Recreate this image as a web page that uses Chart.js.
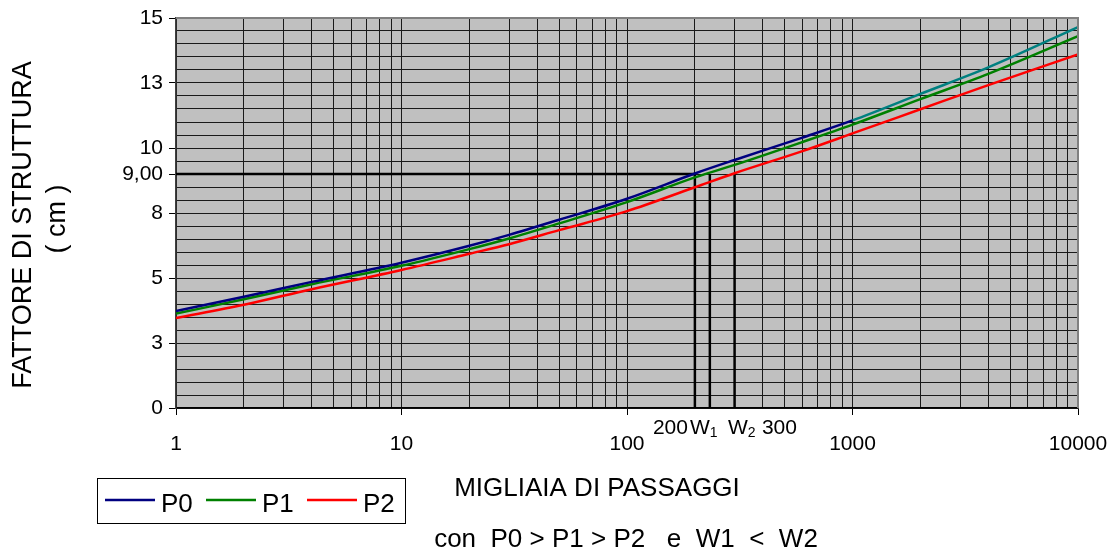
<!DOCTYPE html>
<html>
<head>
<meta charset="utf-8">
<script src="https://cdn.jsdelivr.net/npm/chart.js@4.4.1/dist/chart.umd.min.js"></script>
<style>
    html, body { margin: 0; padding: 0; background: #fff; }
    #wrap { width: 1118px; height: 552px; position: relative; }
</style>
</head>
<body>
<div id="wrap"><canvas id="chart"></canvas></div>
<script>
// Migliaia di passaggi (x) and fattore di struttura in cm (y).
var passaggi = [1, 2, 4, 10, 20, 30, 50, 100, 200, 300, 600, 1000, 2000, 4000, 10000];
var p0 = [3.73, 4.28, 4.85, 5.59, 6.24, 6.66, 7.24, 8.05, 9.02, 9.54, 10.40, 11.06, 12.08, 13.10, 14.65];
var p1 = [3.63, 4.18, 4.76, 5.47, 6.11, 6.52, 7.10, 7.92, 8.87, 9.35, 10.23, 10.90, 11.88, 12.85, 14.30];
var p2 = [3.46, 3.97, 4.57, 5.31, 5.93, 6.30, 6.84, 7.57, 8.49, 9.03, 9.88, 10.56, 11.49, 12.42, 13.60];

// Reference construction: level 9,00 and the passaggi where each curve reaches it.
var livello = 9;
var wPassaggi = [200, 233, 300];

// Axis ticks
var xTickLabels = [1, 10, 100, 1000, 10000];
var yMajor = [0, 2.5, 5, 7.5, 10, 12.5, 15];
var yStep = 0.5;

var FONT = "'Liberation Sans', Arial, sans-serif";

function pts(ys) {
    return passaggi.map(function (x, i) { return { x: x, y: ys[i] }; });
}

function curve(label, color, ys) {
    return {
        label: label,
        data: pts(ys),
        borderColor: color,
        borderWidth: 2.5,
        pointRadius: 0,
        cubicInterpolationMode: "monotone",
        fill: false
    };
}

var datasets = [
    curve("P0", "#000080", p0),
    curve("P1", "#008000", p1),
    curve("P2", "#ff0000", p2)
];
// P0 is drawn teal past 1000 in the original.
datasets[0].segment = {
    borderColor: function (ctx) {
        return ctx.p0.parsed.x >= 1000 ? "#008080" : undefined;
    }
};

datasets.push({
    label: "livello",
    data: [{ x: passaggi[0], y: livello }, { x: wPassaggi[0], y: livello }],
    borderColor: "#000",
    borderWidth: 2.5,
    pointRadius: 0
});
wPassaggi.forEach(function (w) {
    datasets.push({
        label: "w" + w,
        data: [{ x: w, y: 0 }, { x: w, y: livello }],
        borderColor: "#000",
        borderWidth: 2.5,
        pointRadius: 0
    });
});

var plotFrame = {
    id: "plotFrame",
    beforeDraw: function (chart) {
        var a = chart.chartArea, c = chart.ctx;
        c.save();
        c.fillStyle = "#c0c0c0";
        c.fillRect(a.left, a.top, a.right - a.left, a.bottom - a.top);
        c.restore();
    },
    afterDraw: function (chart) {
        var a = chart.chartArea, c = chart.ctx;
        c.save();
        c.strokeStyle = "#808080";
        c.lineWidth = 2;
        c.beginPath();
        c.moveTo(a.left, a.top);
        c.lineTo(a.right, a.top);
        c.lineTo(a.right, a.bottom);
        c.stroke();
        c.restore();
    }
};

var texts = {
    id: "texts",
    afterDraw: function (chart) {
        var c = chart.ctx;
        var xs = chart.scales.x;
        c.save();
        c.fillStyle = "#000";

        // y title, two rotated lines
        c.textAlign = "center";
        c.textBaseline = "middle";
        c.font = "27px " + FONT;
        c.save();
        c.translate(24, 225);
        c.rotate(-Math.PI / 2);
        c.fillText("FATTORE DI STRUTTURA", 0, 0);
        c.restore();
        c.save();
        c.translate(58, 219);
        c.rotate(-Math.PI / 2);
        c.fillText("( cm )", 0, 0);
        c.restore();

        // x title and note
        c.font = "26px " + FONT;
        c.fillText("MIGLIAIA DI PASSAGGI", 597, 489);
        c.fillText("con  P0 > P1 > P2   e  W1  <  W2", 626, 540);

        // 200 W1 W2 300 under the axis
        var base = xs.getPixelForValue(wPassaggi[0]);
        c.textAlign = "left";
        c.textBaseline = "alphabetic";
        var yb = 434;
        c.font = "21px " + FONT;
        c.fillText("200", base - 42, yb);
        c.fillText("W", base - 5, yb);
        c.fillText("W", base + 33, yb);
        c.fillText("300", base + 67, yb);
        var wW = c.measureText("W").width;
        c.font = "14px " + FONT;
        c.fillText("1", base - 5 + wW, yb + 3);
        c.fillText("2", base + 33 + wW, yb + 3);

        // legend box
        c.strokeStyle = "#000";
        c.lineWidth = 1;
        c.strokeRect(97.5, 478.5, 308, 45);
        c.font = "26px " + FONT;
        c.textBaseline = "middle";
        for (var i = 0; i < 3; i++) {
            var ds = chart.data.datasets[i];
            var lx = 105 + i * 101;
            c.strokeStyle = ds.borderColor;
            c.lineWidth = 2.5;
            c.beginPath();
            c.moveTo(lx, 500);
            c.lineTo(lx + 50, 500);
            c.stroke();
            c.fillText(ds.label, lx + 56, 505);
        }
        c.restore();
    }
};

new Chart(document.getElementById("chart"), {
    type: "line",
    data: { datasets: datasets },
    options: {
        responsive: true,
        maintainAspectRatio: false,
        animation: false,
        layout: { padding: { top: 18, right: 40, left: 0, bottom: 0 } },
        plugins: {
            legend: { display: false },
            tooltip: { enabled: false }
        },
        scales: {
            x: {
                type: "logarithmic",
                min: 1,
                max: 10000,
                afterBuildTicks: function (scale) {
                    var t = [];
                    for (var d = 1; d < 10000; d *= 10) {
                        for (var m = 1; m < 10; m++) t.push({ value: m * d });
                    }
                    t.push({ value: 10000 });
                    scale.ticks = t;
                },
                afterFit: function (scale) {
                    scale.height = 144;
                    scale.paddingLeft = 0;
                    scale.paddingRight = 0;
                },
                grid: {
                    color: "#1a1a1a",
                    lineWidth: 1,
                    tickLength: 7,
                    tickColor: function (ctx) {
                        return ctx.tick && xTickLabels.indexOf(ctx.tick.value) >= 0 ? "#000" : "rgba(0,0,0,0)";
                    }
                },
                border: { color: "#000", width: 1.5 },
                ticks: {
                    autoSkip: false,
                    maxRotation: 0,
                    padding: 17,
                    color: "#000",
                    font: { family: FONT, size: 21 },
                    callback: function (v) {
                        return xTickLabels.indexOf(v) >= 0 ? String(v) : "";
                    }
                }
            },
            y: {
                type: "linear",
                min: 0,
                max: 15,
                afterBuildTicks: function (scale) {
                    var t = [];
                    for (var v = 0; v <= 15 + 1e-9; v += yStep) t.push({ value: Math.round(v * 10) / 10 });
                    scale.ticks = t;
                },
                afterFit: function (scale) {
                    scale.width = 176;
                    scale.paddingTop = 0;
                    scale.paddingBottom = 0;
                },
                grid: {
                    color: "#1a1a1a",
                    lineWidth: 1,
                    tickLength: 7,
                    tickColor: function (ctx) {
                        if (!ctx.tick) return "rgba(0,0,0,0)";
                        var v = ctx.tick.value;
                        return yMajor.indexOf(v) >= 0 || v === livello ? "#000" : "rgba(0,0,0,0)";
                    }
                },
                border: { color: "#404040", width: 1.5 },
                ticks: {
                    autoSkip: false,
                    padding: 6,
                    color: "#000",
                    font: { family: FONT, size: 21 },
                    callback: function (v) {
                        if (yMajor.indexOf(v) >= 0) return String(Math.round(v));
                        if (v === livello) return "9,00";
                        return "";
                    }
                }
            }
        }
    },
    plugins: [plotFrame, texts]
});
</script>
</body>
</html>
